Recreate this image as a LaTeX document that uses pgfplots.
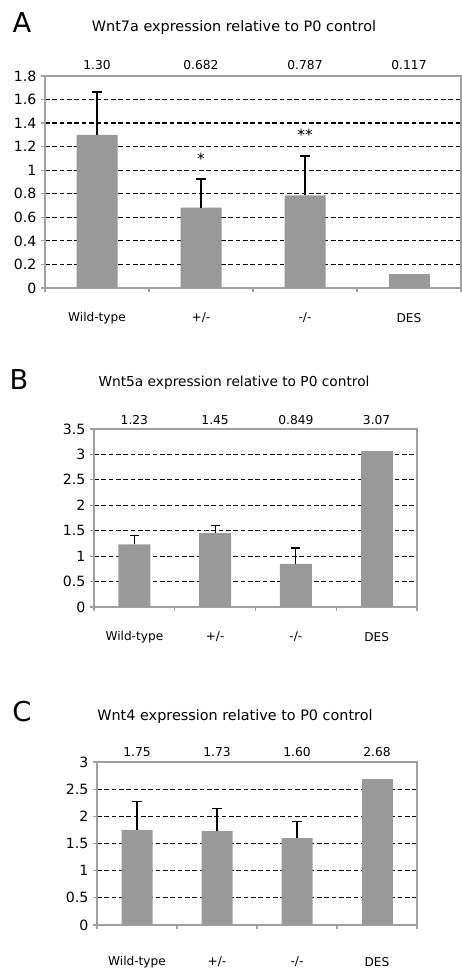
\documentclass[border=0pt]{standalone}
\usepackage{fontspec}
\setmainfont{DejaVu Sans}
\usepackage{pgfplots}
\pgfplotsset{compat=1.18}

\definecolor{barfill}{RGB}{153,153,153}
\definecolor{frame}{RGB}{160,160,160}

\newcommand{\fs}[1]{\fontsize{#1}{#1}\selectfont}

\pgfplotsset{
  panel/.style={
    scale only axis, clip=false,
    ybar, bar width=#1, bar shift=0pt,
    xmin=-0.5, xmax=3.5, ymin=0,
    axis line style={frame, line width=0.9pt},
    xtick={0,1,2,3},
    xticklabels={Wild-type,+/-,-/-,DES},
    major x tick style={draw=none},
    minor xtick={-0.5,0.5,1.5,2.5,3.5},
    minor x tick style={frame, line width=0.9pt},
    minor tick length=3pt,
    major tick length=3pt,
    y tick style={frame, line width=0.9pt},
    tick align=outside,
    xtick pos=bottom, ytick pos=left,
    ymajorgrids=true,
    grid style={black, line width=0.9pt, dash pattern=on 3.4pt off 2.1pt},
    extra y tick style={grid=none},
    /pgf/number format/assume math mode=true,
    yticklabel style={font=\fs{10.6}},
    xticklabel style={font=\fs{9.1}, anchor=center},
  },
  barstyle/.style={fill=barfill, draw=none},
  errstyle/.style={
    error bars/y dir=plus,
    error bars/y explicit,
    error bars/error bar style={black, line width=0.9pt},
    error bars/error mark options={black, line width=0.9pt, mark size=3.4pt, rotate=90},
  },
}

\begin{document}
\begin{tikzpicture}
\path[use as bounding box] (0,0) rectangle (345.75pt,726.75pt);

% ---------- A ----------
\node[font=\fs{20.5}] at (16.5pt,709.5pt) {A};
\node[font=\fs{10.8}] at (175.5pt,705.75pt) {Wnt7a expression relative to P0 control};
\begin{axis}[panel=30.75pt,
  at={(33.75pt,510.75pt)}, anchor=south west,
  width=312pt, height=159pt, ymax=1.8,
  ytick={0.2,0.4,0.6,0.8,1,1.2,1.4,1.6},
  extra y ticks={0,1.8},
  xticklabel style={yshift=-19.5pt},
]
\addplot[barstyle, errstyle] coordinates {
  (0,1.30) +- (0,0.364)
  (1,0.682) +- (0,0.243)
  (2,0.787) +- (0,0.334)
};
\addplot[barstyle] coordinates {(3,0.117)};
\node[font=\fs{9.2}, yshift=8.25pt] at (axis cs:0,1.8) {1.30};
\node[font=\fs{9.2}, yshift=8.25pt] at (axis cs:1,1.8) {0.682};
\node[font=\fs{9.2}, yshift=8.25pt] at (axis cs:2,1.8) {0.787};
\node[font=\fs{9.2}, yshift=8.25pt] at (axis cs:3,1.8) {0.117};
\node[font=\fs{11.5}] at (axis cs:1,1.10) {*};
\node[font=\fs{11.5}] at (axis cs:2,1.30) {**};
\end{axis}

% ---------- B ----------
\node[font=\fs{20.5}] at (14.25pt,441.75pt) {B};
\node[font=\fs{10.3}] at (175.5pt,439.5pt) {Wnt5a expression relative to P0 control};
\begin{axis}[panel=24pt,
  at={(70.5pt,271.5pt)}, anchor=south west,
  width=242.25pt, height=133.5pt, ymax=3.5,
  ytick={0.5,1,1.5,2,2.5,3},
  extra y ticks={0,3.5},
  xticklabel style={yshift=-19.5pt},
]
\addplot[barstyle, errstyle] coordinates {
  (0,1.23) +- (0,0.17)
  (1,1.45) +- (0,0.16)
  (2,0.849) +- (0,0.31)
};
\addplot[barstyle] coordinates {(3,3.07)};
\node[font=\fs{9.2}, yshift=6.75pt] at (axis cs:0,3.5) {1.23};
\node[font=\fs{9.2}, yshift=6.75pt] at (axis cs:1,3.5) {1.45};
\node[font=\fs{9.2}, yshift=6.75pt] at (axis cs:2,3.5) {0.849};
\node[font=\fs{9.2}, yshift=6.75pt] at (axis cs:3,3.5) {3.07};
\end{axis}

% ---------- C ----------
\node[font=\fs{20.5}] at (16.5pt,192.75pt) {C};
\node[font=\fs{10.8}] at (176.25pt,189pt) {Wnt4 expression relative to P0 control};
\begin{axis}[panel=23.25pt,
  at={(72.75pt,33pt)}, anchor=south west,
  width=240pt, height=122.25pt, ymax=3,
  ytick={0.5,1,1.5,2,2.5},
  extra y ticks={0,3},
  xticklabel style={yshift=-24.5pt},
]
\addplot[barstyle, errstyle] coordinates {
  (0,1.75) +- (0,0.53)
  (1,1.73) +- (0,0.42)
  (2,1.60) +- (0,0.30)
};
\addplot[barstyle] coordinates {(3,2.68)};
\node[font=\fs{9.2}, yshift=7.5pt] at (axis cs:0,3) {1.75};
\node[font=\fs{9.2}, yshift=7.5pt] at (axis cs:1,3) {1.73};
\node[font=\fs{9.2}, yshift=7.5pt] at (axis cs:2,3) {1.60};
\node[font=\fs{9.2}, yshift=7.5pt] at (axis cs:3,3) {2.68};
\end{axis}
\end{tikzpicture}
\end{document}
